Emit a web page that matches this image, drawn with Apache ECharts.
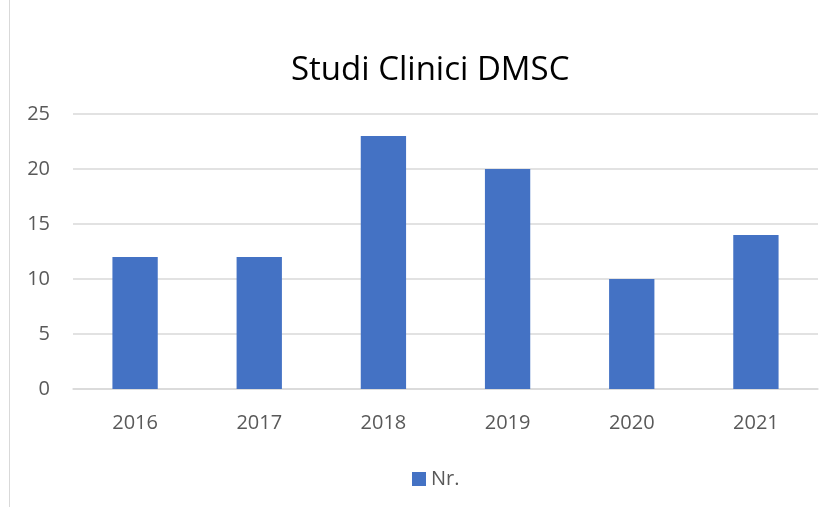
<!DOCTYPE html>
<html>
<head>
<meta charset="utf-8">
<script src="https://cdn.jsdelivr.net/npm/echarts@6/dist/echarts.min.js"></script>
<style>
  html, body { margin: 0; padding: 0; background: #fff; }
  #chart { width: 836px; height: 507px; }
</style>
</head>
<body>
<div id="chart"></div>
<script>
const years = ['2016', '2017', '2018', '2019', '2020', '2021']
const counts = [12, 12, 23, 20, 10, 14]
const seriesName = 'Nr.'

const chart = echarts.init(document.getElementById('chart'))
const textSub = '#595959'

chart.setOption({
  animation: false,
  title: {
    text: 'Studi Clinici DMSC',
    left: 286,
    top: 49,
    textStyle: { fontFamily: 'Open Sans', fontSize: 33, fontWeight: 'normal', color: '#000' }
  },
  legend: {
    data: [seriesName],
    top: 464,
    left: 407,
    icon: 'rect',
    itemWidth: 14,
    itemHeight: 14,
    itemGap: 6,
    textStyle: { fontFamily: 'Open Sans', fontSize: 20, color: textSub, padding: [6, 0, 0, 0] }
  },
  graphic: [{
    type: 'line',
    shape: { x1: 9.5, y1: 0, x2: 9.5, y2: 507 },
    style: { stroke: '#d9d9d9', lineWidth: 1 }
  }],
  grid: { left: 73, right: 18, top: 114, bottom: 118 },
  xAxis: {
    type: 'category',
    data: years,
    axisLine: { lineStyle: { color: '#d9d9d9', width: 1.5 } },
    axisTick: { show: false },
    axisLabel: { color: textSub, fontFamily: 'Open Sans', fontSize: 20, margin: 24 }
  },
  yAxis: {
    type: 'value',
    min: 0,
    max: 25,
    interval: 5,
    axisLine: { show: false },
    axisTick: { show: false },
    axisLabel: { color: textSub, fontFamily: 'Open Sans', fontSize: 20, margin: 23, padding: [6, 0, 0, 0] },
    splitLine: { lineStyle: { color: '#d9d9d9', width: 1.5 } }
  },
  series: [{
    name: seriesName,
    type: 'bar',
    data: counts,
    barWidth: '36.5%',
    itemStyle: { color: '#4472c4' }
  }]
})
</script>
</body>
</html>
